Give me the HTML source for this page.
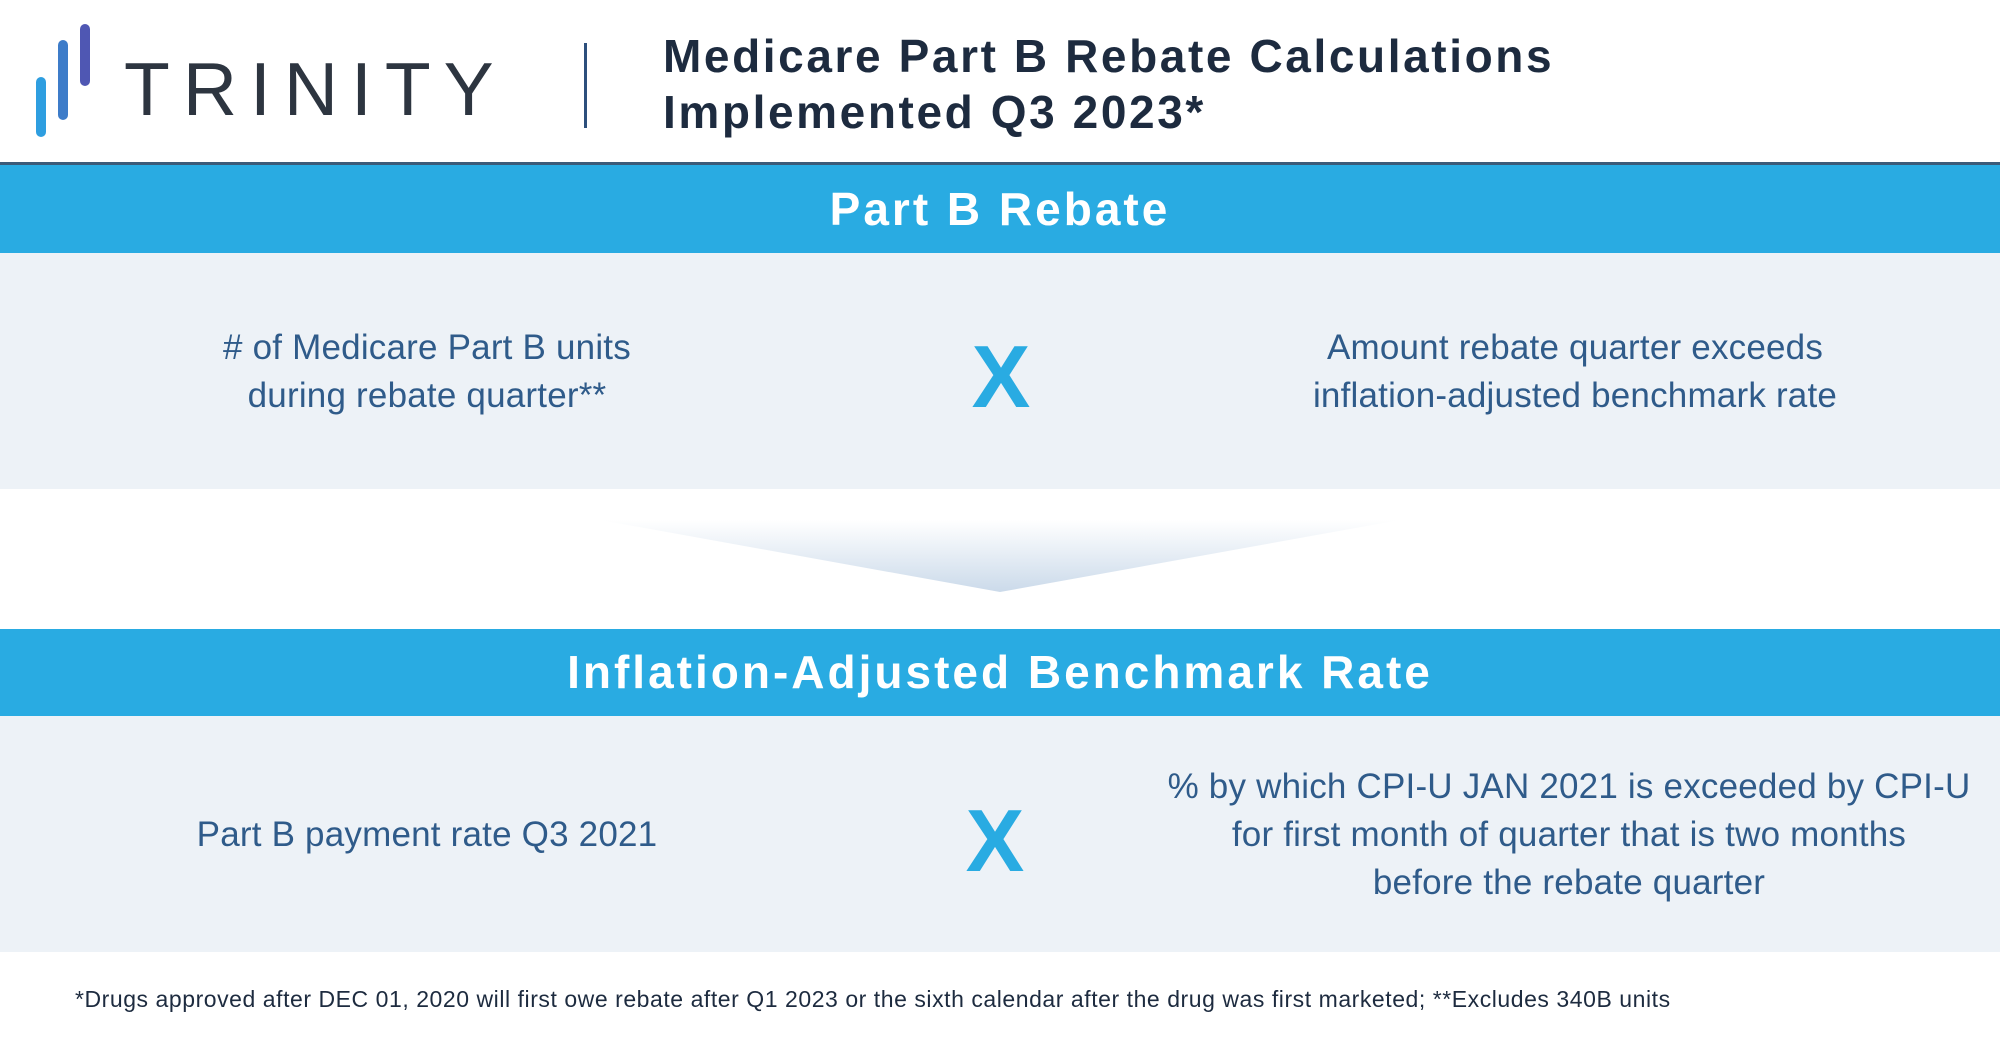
<!DOCTYPE html>
<html><head><meta charset="utf-8"><style>
body{margin:0;width:2000px;height:1047px;background:#fff;position:relative;overflow:hidden;font-family:"Liberation Sans",sans-serif}
.a{position:absolute}
.bar{position:absolute;width:10px;border-radius:5px}
.band{position:absolute;left:0;width:2000px;background:#29abe2;color:#fff;font-weight:bold;font-size:46px;text-align:center;letter-spacing:3px}
.panel{position:absolute;left:0;width:2000px;background:#edf2f7}
.t{position:absolute;color:#2f5b8a;font-size:35px;line-height:48px;text-align:center;letter-spacing:0.2px}
.x{position:absolute;color:#29abe2;font-weight:bold;font-size:88px;width:120px;text-align:center}
</style></head><body>
<div class="bar" style="left:36px;top:77px;height:60px;background:#2e9ee0"></div>
<div class="bar" style="left:58px;top:40px;height:80px;background:#3d7cc9"></div>
<div class="bar" style="left:80px;top:24px;height:62px;background:#4f57b3"></div>
<div class="a" style="left:124px;top:52px;font-size:75px;line-height:75px;letter-spacing:13px;color:#2d3540">TRINITY</div>
<div class="a" style="left:584px;top:43px;width:3px;height:85px;background:#2d4f7c"></div>
<div class="a" style="left:663px;top:28px;font-size:46px;line-height:56px;font-weight:bold;color:#1d2b3f;letter-spacing:2.6px">Medicare Part B Rebate Calculations<br>Implemented Q3 2023*</div>
<div class="a" style="left:0;top:162px;width:2000px;height:3px;background:#3b5a78"></div>
<div class="band" style="top:165px;height:88px;line-height:88px">Part B Rebate</div>
<div class="panel" style="top:253px;height:236px"></div>
<div class="t" style="left:127px;top:324px;width:600px">#&nbsp;of Medicare Part B units<br>during rebate quarter**</div>
<div class="x" style="left:941px;top:326px">X</div>
<div class="t" style="left:1225px;top:324px;width:700px">Amount rebate quarter exceeds<br>inflation-adjusted benchmark rate</div>
<svg class="a" style="left:600px;top:520px" width="800" height="75"><defs><linearGradient id="g" x1="0" y1="0" x2="0" y2="1"><stop offset="0" stop-color="#fff"/><stop offset="1" stop-color="#cbdaea"/></linearGradient></defs><polygon points="0,0 800,0 400,72" fill="url(#g)"/></svg>
<div class="band" style="top:629px;height:87px;line-height:87px">Inflation-Adjusted Benchmark Rate</div>
<div class="panel" style="top:716px;height:236px"></div>
<div class="t" style="left:127px;top:811px;width:600px">Part B payment rate Q3 2021</div>
<div class="x" style="left:935px;top:790px">X</div>
<div class="t" style="left:1149px;top:763px;width:840px">% by which CPI-U JAN 2021 is exceeded by CPI-U<br>for first month of quarter that is two months<br>before the rebate quarter</div>
<div class="a" style="left:75px;top:986px;font-size:23px;color:#1d2b3f;letter-spacing:0.55px">*Drugs approved after DEC 01, 2020 will first owe rebate after Q1 2023 or the sixth calendar after the drug was first marketed; **Excludes 340B units</div>
</body></html>
